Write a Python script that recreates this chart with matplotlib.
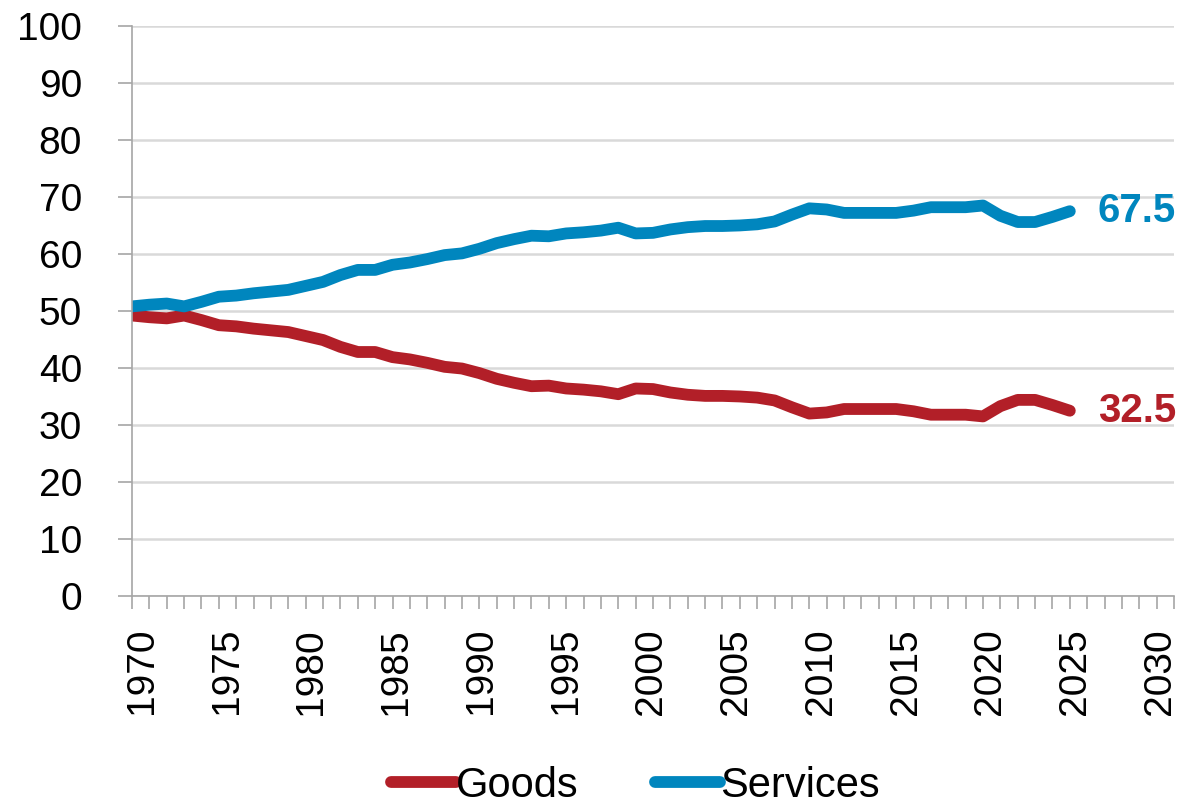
import numpy as np
import matplotlib.pyplot as plt
import matplotlib.transforms as mtransforms

plt.rcParams['font.family'] = ['Liberation Sans', 'DejaVu Sans']

years = np.arange(1970, 2025)
goods = [49.2, 48.9, 48.7, 49.2, 48.4, 47.5, 47.3, 46.9, 46.6, 46.3,
         45.6, 44.9, 43.7, 42.8, 42.8, 41.9, 41.5, 40.9, 40.2, 39.9,
         39.1, 38.1, 37.4, 36.8, 36.9, 36.4, 36.2, 35.9, 35.4, 36.4,
         36.3, 35.7, 35.3, 35.1, 35.1, 35.0, 34.8, 34.3, 33.1, 32.0,
         32.2, 32.8, 32.8, 32.8, 32.8, 32.4, 31.8, 31.8, 31.8, 31.5,
         33.3, 34.4, 34.4, 33.5, 32.5]
services = [50.8, 51.1, 51.3, 50.8, 51.6, 52.5, 52.7, 53.1, 53.4, 53.7,
            54.4, 55.1, 56.3, 57.2, 57.2, 58.1, 58.5, 59.1, 59.8, 60.1,
            60.9, 61.9, 62.6, 63.2, 63.1, 63.6, 63.8, 64.1, 64.6, 63.6,
            63.7, 64.3, 64.7, 64.9, 64.9, 65.0, 65.2, 65.7, 66.9, 68.0,
            67.8, 67.2, 67.2, 67.2, 67.2, 67.6, 68.2, 68.2, 68.2, 68.5,
            66.7, 65.6, 65.6, 66.5, 67.5]

red = '#B21F28'
blue = '#0086BE'

fig = plt.figure(figsize=(11.83, 8.10), dpi=100)
ax = fig.add_axes([0.1116, 0.2642, 0.8808, 0.7038])

ax.plot(years, goods, color=red, lw=8.5, solid_capstyle='round', solid_joinstyle='round', label='Goods')
ax.plot(years, services, color=blue, lw=8.5, solid_capstyle='round', solid_joinstyle='round', label='Services')

ax.text(2025.6, services[-1], f'{services[-1]:.1f}', color=blue, fontsize=29,
        fontweight='bold', va='center', ha='left', clip_on=False)
ax.text(2025.6, goods[-1], f'{goods[-1]:.1f}', color=red, fontsize=29,
        fontweight='bold', va='center', ha='left', clip_on=False)

ax.set_xlim(1970, 2030)
ax.set_ylim(0, 100)
ax.set_yticks(np.arange(0, 101, 10))
xt = np.arange(1970, 2031, 5)
ax.set_xticks(xt)
ax.set_xticks(np.arange(1970, 2031, 1), minor=True)
ax.tick_params(axis='x', which='both', length=9, width=1.2, color='#A6A6A6',
               labelsize=28, labelrotation=90, pad=14)
ax.tick_params(axis='y', length=10, width=1.2, color='#A6A6A6', labelsize=28, pad=26)

# year labels sit slightly inward from their ticks, as in the original
for yr, lab in zip(xt, ax.get_xticklabels()):
    dx = (7 - 17 * (yr - 1970) / 60) / 72
    lab.set_transform(lab.get_transform() + mtransforms.ScaledTranslation(dx, 0, fig.dpi_scale_trans))

ax.grid(axis='y', color='#D9D9D9', lw=1.8)
ax.set_axisbelow(True)
for s in ['top', 'right']:
    ax.spines[s].set_visible(False)
for s in ['left', 'bottom']:
    ax.spines[s].set_color('#A6A6A6')
    ax.spines[s].set_linewidth(1.2)

fig.legend(loc='center', bbox_to_anchor=(0.537, 0.03), ncol=2, frameon=False,
           fontsize=30, handlelength=1.55, handletextpad=0.0, columnspacing=1.85,
           borderpad=0.1)

fig.savefig('out.png', dpi=100)
